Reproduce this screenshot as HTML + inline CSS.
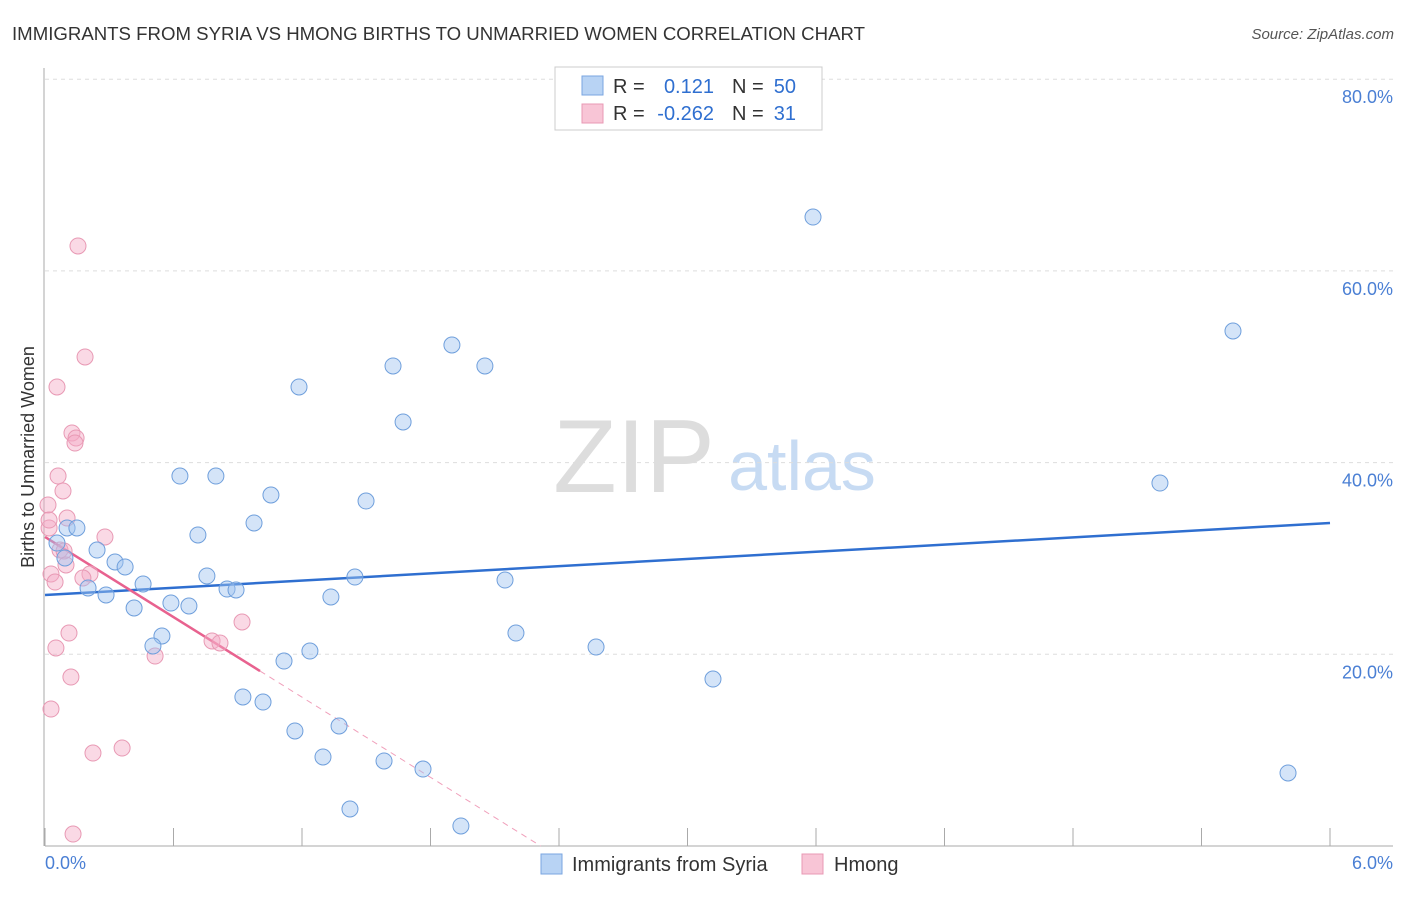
<!DOCTYPE html>
<html><head><meta charset="utf-8"><style>
body{margin:0;background:#fff;font-family:"Liberation Sans",sans-serif;}
svg text{font-family:"Liberation Sans",sans-serif;}
</style></head><body>
<svg id="chart" width="1406" height="892">
<text x="12" y="40" font-size="18" fill="#333" textLength="853" lengthAdjust="spacingAndGlyphs">IMMIGRANTS FROM SYRIA VS HMONG BIRTHS TO UNMARRIED WOMEN CORRELATION CHART</text>
<text x="1394" y="39" font-size="15" fill="#555" font-style="italic" text-anchor="end">Source: ZipAtlas.com</text>
<g>
<text x="634" y="492" font-size="104" font-family="Liberation Serif, serif" fill="#ddd" text-anchor="middle">ZIP</text>
<text x="802" y="490" font-size="70" fill="#c7dbf3" text-anchor="middle">atlas</text>
</g>
<g id="grid"></g>
<g id="axes"></g>
<g id="lines"></g>
<g id="pts"></g>
<text transform="translate(34,457) rotate(-90)" font-size="18" fill="#333" text-anchor="middle">Births to Unmarried Women</text>
<text x="45" y="869" font-size="18" fill="#4a7fd4">0.0%</text>
<text x="1393" y="869" font-size="18" fill="#4a7fd4" text-anchor="end">6.0%</text>
<g>
<rect x="555" y="67" width="267" height="63" fill="#fff" stroke="#ccc"/>
<rect x="582" y="76" width="21" height="19" fill="#b8d3f4" stroke="#7aa6e0"/>
<rect x="582" y="104" width="21" height="19" fill="#f8c5d6" stroke="#e899b4"/>
<text x="613" y="93" font-size="20" fill="#333">R =</text>
<text x="714" y="93" font-size="20" fill="#2f6fd0" text-anchor="end">0.121</text>
<text x="732" y="93" font-size="20" fill="#333">N =</text>
<text x="796" y="93" font-size="20" fill="#2f6fd0" text-anchor="end">50</text>
<text x="613" y="120" font-size="20" fill="#333">R =</text>
<text x="714" y="120" font-size="20" fill="#2f6fd0" text-anchor="end">-0.262</text>
<text x="732" y="120" font-size="20" fill="#333">N =</text>
<text x="796" y="120" font-size="20" fill="#2f6fd0" text-anchor="end">31</text>
</g>
<g>
<rect x="541" y="854" width="21" height="20" fill="#b8d3f4" stroke="#7aa6e0"/>
<text x="572" y="871" font-size="20" fill="#333">Immigrants from Syria</text>
<rect x="802" y="854" width="21" height="20" fill="#f8c5d6" stroke="#e899b4"/>
<text x="834" y="871" font-size="20" fill="#333">Hmong</text>
</g>
</svg>
<script>
const yTicks=[20,40,60,80];
const yTickLabels=["20.0%","40.0%","60.0%","80.0%"];
const xTicks=[0,0.6,1.2,1.8,2.4,3.0,3.6,4.2,4.8,5.4,6.0];
const syriaX=[3.586,5.547,1.900,1.625,2.054,1.186,1.672,0.630,0.798,5.206,1.055,1.499,0.976,0.103,0.149,0.714,0.056,0.243,0.093,0.327,0.374,0.756,1.447,0.458,2.148,0.201,0.850,0.892,0.285,1.335,0.588,0.672,0.416,2.199,0.546,0.504,2.573,1.237,1.116,3.119,0.924,1.018,1.373,1.167,1.298,1.583,1.765,5.804,1.424,1.942];
const syriaY=[65.62,53.73,52.27,50.08,50.08,47.89,44.24,38.60,38.60,37.87,36.62,35.99,33.70,33.18,33.18,32.45,31.61,30.88,30.05,29.63,29.11,28.17,28.06,27.33,27.75,26.92,26.81,26.71,26.19,25.98,25.35,25.04,24.83,22.22,21.91,20.87,20.76,20.34,19.30,17.42,15.55,15.02,12.52,12.00,9.29,8.87,8.03,7.62,3.86,2.09];
const hmongX=[0.154,0.187,0.056,0.126,0.145,0.140,0.061,0.084,0.014,0.103,0.019,0.280,0.070,0.089,0.098,0.210,0.028,0.177,0.047,0.920,0.112,0.780,0.817,0.051,0.514,0.121,0.028,0.360,0.224,0.131,0.019];
const hmongY=[62.60,51.02,47.89,43.09,42.57,42.04,38.60,37.04,35.58,34.22,33.18,32.24,30.88,30.78,29.32,28.38,28.38,27.96,27.54,23.37,22.22,21.39,21.18,20.66,19.82,17.63,14.29,10.22,9.70,1.25,34.01];
const syriaTrend=[26.19,33.70];
const hmongTrend=[32.24,-13.93];
const hmongSolidEnd=1.004;
const NS="http://www.w3.org/2000/svg";
const X=v=>45+v/6*1285;
const Y=v=>846-v/20*191.7;
function mk(p,t,a){const e=document.createElementNS(NS,t);for(const k in a)e.setAttribute(k,a[k]);p.appendChild(e);return e;}
const grid=document.getElementById('grid'),axes=document.getElementById('axes'),lines=document.getElementById('lines'),pts=document.getElementById('pts');
yTicks.forEach((t,i)=>{
 const l=mk(grid,'line',{x1:45,x2:1393,y1:Y(t),y2:Y(t),stroke:'#ddd','stroke-dasharray':'4,4'});
 
 
 const tx=mk(grid,'text',{x:1393,y:Y(t)+24,'font-size':18,fill:'#4a7fd4','text-anchor':'end'});
 tx.textContent=yTickLabels[i];
 
 
});
const ya=mk(axes,'line',{x1:44,x2:44,y1:68,y2:846,stroke:'#aaa'});


const xa=mk(axes,'line',{x1:45,x2:1393,y1:846,y2:846,stroke:'#aaa'});


xTicks.forEach(t=>{
 const k=mk(axes,'line',{x1:X(t),x2:X(t),y1:828,y2:846,stroke:'#aaa'});
 
 
});
const bl=mk(lines,'line',{x1:X(0),y1:Y(syriaTrend[0]),x2:X(6),y2:Y(syriaTrend[1]),stroke:'#2f6fd0','stroke-width':2.5});


const hz=-hmongTrend[0]/hmongTrend[1];
const pl=mk(lines,'line',{x1:X(0),y1:Y(hmongTrend[0]),x2:X(hmongSolidEnd),y2:Y(hmongTrend[0]+hmongTrend[1]*hmongSolidEnd),stroke:'#e8628f','stroke-width':2.5});


const pd=mk(lines,'line',{x1:X(hmongSolidEnd),y1:Y(hmongTrend[0]+hmongTrend[1]*hmongSolidEnd),x2:X(hz),y2:Y(0),stroke:'#f0a0bb','stroke-width':1,'stroke-dasharray':'6,5'});


hmongX.forEach((v,i)=>{
 const c=mk(pts,'circle',{cx:X(v),cy:Y(hmongY[i]),r:8,fill:'rgba(245,170,198,0.45)',stroke:'#e899b4','stroke-width':1});
 
 
});
syriaX.forEach((v,i)=>{
 const c=mk(pts,'circle',{cx:X(v),cy:Y(syriaY[i]),r:8,fill:'rgba(160,196,240,0.45)',stroke:'#6f9fdc','stroke-width':1});
 
 
});
</script>
</body></html>
